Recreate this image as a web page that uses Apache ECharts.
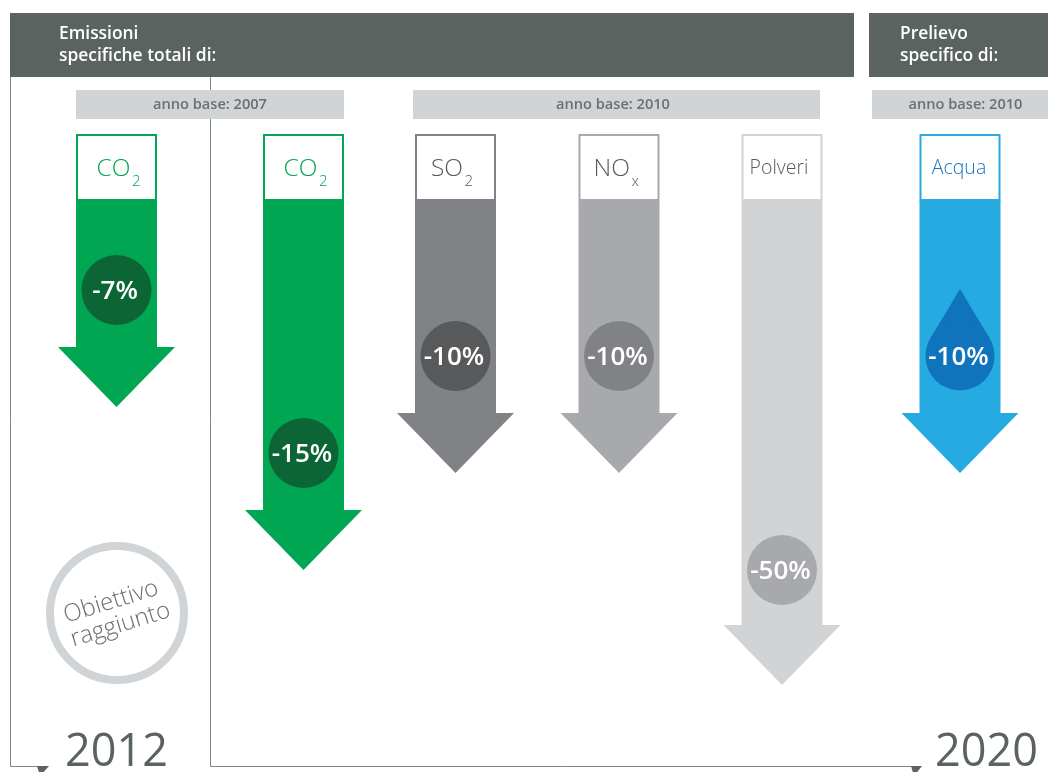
<!DOCTYPE html>
<html>
<head>
<meta charset="utf-8">
<title>Obiettivi emissioni</title>
<script src="https://cdn.jsdelivr.net/npm/echarts@6/dist/echarts.min.js"></script>
<style>
    html, body { margin: 0; padding: 0; background: #fff; }
    #chart { width: 1048px; height: 772px; }
</style>
</head>
<body>
<div id="chart"></div>
<script>
// data
const labelMain = ['CO', 'CO', 'SO', 'NO', 'Polveri', 'Acqua']
const labelSub = ['2', '2', '2', 'x', '', '']
const reductions = [-7, -15, -10, -10, -50, -10]
// arrow length below the label box, as drawn
const arrowLengths = [207, 370, 273, 273, 485, 273]

// layout and colours
const columnX = [116.5, 303.5, 455.5, 619, 782, 960]
const badgeDepths = [90, 253, 156, 156, 370, 156]
const labelShift = [14, 14, 7.5, 11, -3, -1]
const arrowColors = ['#00a651', '#00a651', '#808285', '#a7a9ac', '#d1d3d4', '#25aae1']
const badgeColors = ['#0c6535', '#0c6535', '#58595b', '#808285', '#a7a9ac', '#1074bc']
const labelColors = ['#00a651', '#00a651', '#58595b', '#58595b', '#58595b', '#1c75bc']
const FONT = '"Open Sans", "Noto Sans", sans-serif'
const HEADER = '#5b6361'
const BAND = '#d1d4d6'
const FRAME = '#808684'

const renderArrow = (params, api) => {
    const i = api.value(0)
    const cx = api.coord([columnX[i], 0])[0]
    const base = api.coord([0, 0])[1]
    const tip = api.coord([0, api.value(1)])[1]
    const headY = tip - 60
    const badgeY = api.coord([0, badgeDepths[i]])[1]
    const bodyW = 40.5
    const headW = 58.5
    const children = [
        {
            type: 'polygon',
            shape: { points: [
                [cx - bodyW, base], [cx + bodyW, base], [cx + bodyW, headY], [cx + headW, headY],
                [cx, tip], [cx - headW, headY], [cx - bodyW, headY]
            ] },
            style: { fill: arrowColors[i] }
        },
        {
            type: 'rect',
            shape: { x: cx - bodyW + 1, y: base - 65, width: bodyW * 2 - 2, height: 65 },
            style: { fill: '#fff', stroke: arrowColors[i], lineWidth: 2 }
        }
    ]
    if (labelMain[i].length > 2) {
        children.push({
            type: 'text',
            style: {
                x: cx + labelShift[i], y: base - 32, text: labelMain[i], fill: labelColors[i],
                fontFamily: FONT, fontWeight: 300, fontSize: 19.5, textAlign: 'center', textVerticalAlign: 'middle'
            }
        })
    } else {
        children.push({
            type: 'text',
            style: {
                x: cx + labelShift[i], y: base - 31, text: labelMain[i], fill: labelColors[i],
                fontFamily: FONT, fontWeight: 300, fontSize: 24.5, textAlign: 'right', textVerticalAlign: 'middle'
            }
        })
        children.push({
            type: 'text',
            style: {
                x: cx + labelShift[i] + 1.5, y: base - 18, text: labelSub[i], fill: labelColors[i],
                fontFamily: FONT, fontWeight: 300, fontSize: 15, textAlign: 'left', textVerticalAlign: 'middle'
            }
        })
    }
    if (labelMain[i] === 'Acqua') {
        // drop: circle plus the two tangent lines up to the tip
        const r = 34.5
        const cy = badgeY
        const h = 67
        const cosA = r / h
        const sinA = Math.sqrt(1 - cosA * cosA)
        children.push({
            type: 'polygon',
            shape: { points: [
                [cx, cy - h], [cx + r * sinA, cy - r * cosA], [cx, cy], [cx - r * sinA, cy - r * cosA]
            ] },
            style: { fill: badgeColors[i] }
        })
        children.push({ type: 'circle', shape: { cx: cx, cy: cy, r: r }, style: { fill: badgeColors[i] } })
    } else {
        children.push({ type: 'circle', shape: { cx: cx, cy: badgeY, r: 35 }, style: { fill: badgeColors[i] } })
    }
    children.push({
        type: 'text',
        style: {
            x: cx - 1.5, y: badgeY + 2, text: reductions[i] + '%', fill: '#fff',
            fontFamily: FONT, fontWeight: 600, fontSize: 26, textAlign: 'center', textVerticalAlign: 'middle'
        }
    })
    return { type: 'group', children: children }
}

const rect = (x, y, width, height, fill) => ({ type: 'rect', shape: { x, y, width, height }, style: { fill } })
const text = (x, y, str, fontSize, fontWeight, fill, align) => ({
    type: 'text', x: x, y: y,
    style: { text: str, fontFamily: FONT, fontSize, fontWeight, fill, textAlign: align || 'center', textVerticalAlign: 'middle' }
})
const frame = (points) => ({ type: 'polyline', shape: { points }, style: { stroke: FRAME, lineWidth: 1, fill: null } })
const head = (points) => ({ type: 'polygon', shape: { points }, style: { fill: HEADER } })

const chart = echarts.init(document.getElementById('chart'), null, { renderer: 'canvas' })
chart.setOption({
    animation: false,
    backgroundColor: '#fff',
    grid: { left: 0, right: 0, top: 0, bottom: 0 },
    xAxis: { type: 'value', min: 0, max: 1048, show: false },
    // zero sits on the lower edge of the label boxes
    yAxis: { type: 'value', min: -200, max: 572, inverse: true, show: false },
    graphic: [
        frame([[10.5, 77], [10.5, 766.5], [40, 766.5]]),
        frame([[210.5, 77], [210.5, 766.5], [915, 766.5]]),
        head([[37, 766], [49, 766], [40, 776]]),
        head([[911, 766], [922, 766], [914, 776]]),
        rect(10, 13, 844, 64, HEADER),
        rect(869, 13, 179, 64, HEADER),
        rect(76, 90, 268, 29, BAND),
        rect(413, 90, 407, 29, BAND),
        rect(872, 90, 176, 29, BAND),
        text(59, 34.5, 'Emissioni', 17.4, 600, '#fff', 'left'),
        text(59, 56.5, 'specifiche totali di:', 17.4, 600, '#fff', 'left'),
        text(900, 34.5, 'Prelievo', 17.4, 600, '#fff', 'left'),
        text(900, 56.5, 'specifico di:', 17.4, 600, '#fff', 'left'),
        text(210, 104.5, 'anno base: 2007', 14.6, 600, '#6d6e71'),
        text(613, 104.5, 'anno base: 2010', 14.6, 600, '#6d6e71'),
        text(965.5, 104.5, 'anno base: 2010', 14.6, 600, '#6d6e71'),
        { type: 'circle', shape: { cx: 117, cy: 613, r: 67 }, style: { fill: 'none', stroke: BAND, lineWidth: 8 } },
        { ...text(111, 602, 'Obiettivo', 24, 300, '#6d6e71'), rotation: 17 * Math.PI / 180 },
        { ...text(120.5, 625, 'raggiunto', 24, 300, '#6d6e71'), rotation: 17 * Math.PI / 180 },
        text(116.5, 753, '2012', 45, 400, HEADER),
        text(986.5, 753, '2020', 45, 400, HEADER)
    ],
    series: [{
        type: 'custom',
        clip: false,
        renderItem: renderArrow,
        encode: { x: 0, y: 1 },
        data: arrowLengths.map((v, i) => [i, v])
    }]
})
window.addEventListener('resize', () => {
    chart.resize()
})
</script>
</body>
</html>
